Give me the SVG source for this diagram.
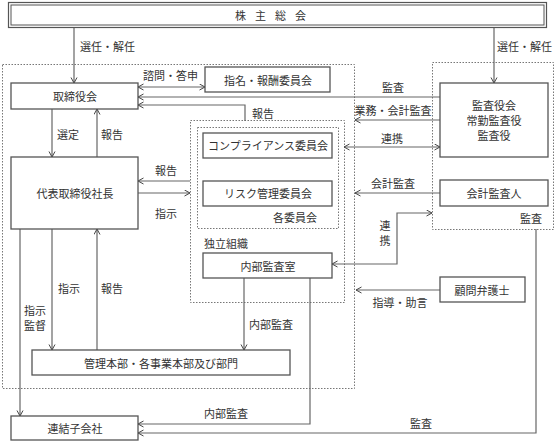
<svg xmlns="http://www.w3.org/2000/svg" width="555" height="441" viewBox="0 0 555 441">
<style>
text{font-family:"Noto Sans CJK JP","Noto Sans CJK SC",sans-serif;font-size:11px;fill:#333;dominant-baseline:central}
.c{text-anchor:middle}
.box{fill:#fff;stroke:#555;stroke-width:1.3}
.dot{fill:none;stroke:#777;stroke-width:1;stroke-dasharray:1.5 1.5}
.ln{fill:none;stroke:#666;stroke-width:1.2}
.a{marker-end:url(#ah)}
.aa{marker-end:url(#ah);marker-start:url(#ah)}
</style>
<defs>
<marker id="ah" markerUnits="userSpaceOnUse" markerWidth="8" markerHeight="8" refX="6" refY="3.5" orient="auto-start-reverse">
<path d="M0.5,0.5 L6,3.5 L0.5,6.5" fill="none" stroke="#444" stroke-width="1"/>
</marker>
</defs>
<rect width="555" height="441" fill="#fff"/>

<g id="regions">
<rect class="dot" x="2.5" y="64.5" width="352" height="324"/>
<rect class="dot" x="432.5" y="62.5" width="121" height="167"/>
<rect class="dot" x="190.5" y="120.5" width="154" height="182"/>
<rect class="dot" x="197.5" y="127.5" width="141" height="101"/>
<text x="295" y="217" class="c">各委員会</text>
<text x="204" y="243">独立組織</text>
<text x="531" y="218" class="c">監査</text>
</g>

<g id="connectors">
<path class="ln a" d="M74,27 V83"/>
<path class="ln a" d="M494,27 V83"/>
<path class="ln aa" d="M138,87 H205"/>
<path class="ln a" d="M440,97 H138"/>
<path class="ln a" d="M440,120 H355"/>
<path class="ln a" d="M245,121 V105 H138"/>
<path class="ln aa" d="M344,147 H440"/>
<path class="ln a" d="M440,193 H355"/>
<path class="ln aa" d="M332,264 H397 V213 H432"/>
<path class="ln a" d="M440,290 H356"/>
<path class="ln a" d="M52,109 V157"/>
<path class="ln a" d="M97,157 V109"/>
<path class="ln a" d="M190,181 H138"/>
<path class="ln a" d="M138,193 H190"/>
<path class="ln a" d="M20,229 V416"/>
<path class="ln a" d="M52,229 V350"/>
<path class="ln a" d="M97,350 V229"/>
<path class="ln a" d="M244,278 V350"/>
<path class="ln a" d="M310,278 V424 H138"/>
<path class="ln a" d="M536,229 V433 H138"/>
<text x="80" y="46">選任・解任</text>
<text x="497" y="46">選任・解任</text>
<text x="143" y="75">諮問・答申</text>
<text x="393" y="87" class="c">監査</text>
<text x="393" y="110" class="c">業務・会計監査</text>
<text x="252" y="113">報告</text>
<text x="392" y="138" class="c">連携</text>
<text x="393" y="183" class="c">会計監査</text>
<text x="385" y="225" class="c">連</text>
<text x="385" y="240" class="c">携</text>
<text x="400" y="302" class="c">指導・助言</text>
<text x="68" y="134" class="c">選定</text>
<text x="112" y="134" class="c">報告</text>
<text x="166" y="170" class="c">報告</text>
<text x="166" y="213" class="c">指示</text>
<text x="69" y="288" class="c">指示</text>
<text x="112" y="288" class="c">報告</text>
<text x="35" y="310" class="c">指示</text>
<text x="35" y="325" class="c">監督</text>
<text x="271" y="324" class="c">内部監査</text>
<text x="226" y="413" class="c">内部監査</text>
<text x="421" y="423" class="c">監査</text>
</g>

<g id="n-shareholders">
<rect x="8.5" y="2.5" width="538" height="25" fill="#fff" stroke="#555" stroke-width="1.2"/>
<rect x="11" y="5" width="533" height="20" fill="none" stroke="#555" stroke-width="1"/>
<text x="275" y="15" class="c" letter-spacing="9">株主総会</text>
</g>
<g id="n-board"><rect class="box" x="11" y="83" width="127" height="26"/><text x="75" y="96" class="c">取締役会</text></g>
<g id="n-nomination"><rect class="box" x="205" y="67" width="125" height="25"/><text x="268" y="80" class="c">指名・報酬委員会</text></g>
<g id="n-president"><rect class="box" x="11" y="157" width="127" height="72"/><text x="75" y="193" class="c">代表取締役社長</text></g>
<g id="n-compliance"><rect class="box" x="203" y="133" width="129" height="25"/><text x="268" y="145" class="c">コンプライアンス委員会</text></g>
<g id="n-risk"><rect class="box" x="203" y="181" width="129" height="25"/><text x="268" y="193" class="c">リスク管理委員会</text></g>
<g id="n-internal-audit"><rect class="box" x="203" y="253" width="129" height="25"/><text x="268" y="266" class="c">内部監査室</text></g>
<g id="n-auditors"><rect class="box" x="440" y="83" width="108" height="74"/><text x="494" y="105" class="c">監査役会</text><text x="494" y="120" class="c">常勤監査役</text><text x="494" y="135" class="c">監査役</text></g>
<g id="n-accounting-auditor"><rect class="box" x="440" y="180" width="108" height="26"/><text x="494" y="193" class="c">会計監査人</text></g>
<g id="n-lawyer"><rect class="box" x="440" y="277" width="85" height="25"/><text x="482" y="290" class="c">顧問弁護士</text></g>
<g id="n-divisions"><rect class="box" x="32" y="350" width="258" height="25"/><text x="161" y="363" class="c">管理本部・各事業本部及び部門</text></g>
<g id="n-subsidiaries"><rect class="box" x="11" y="416" width="127" height="24"/><text x="75" y="428" class="c">連結子会社</text></g>
</svg>
